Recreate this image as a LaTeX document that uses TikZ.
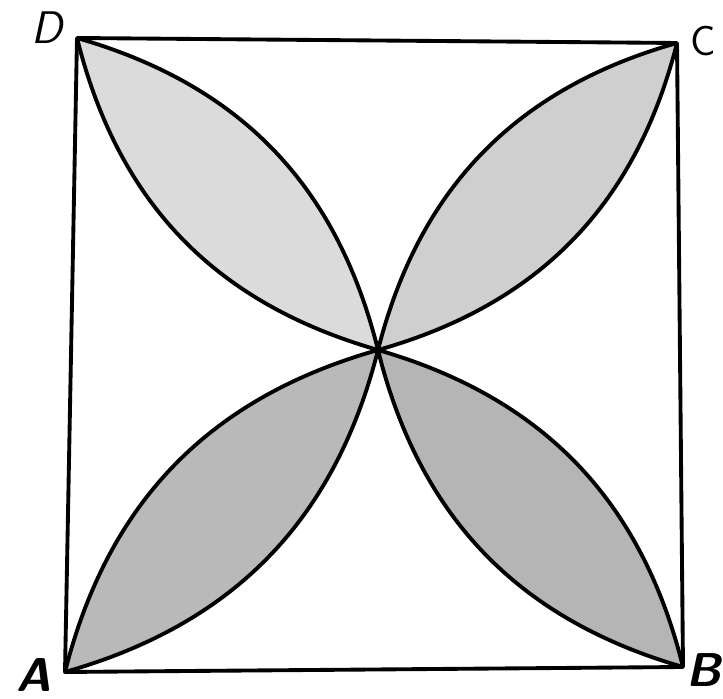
\documentclass[tikz,border=0pt]{standalone}
\usepackage{tikz}
\usetikzlibrary{positioning}

\begin{document}
\begin{tikzpicture}[
    edge/.style={line width=2.2pt, line join=round},
    petal/.style={edge, fill=#1},
    corner/.style={inner sep=0pt, font=\fontsize{26}{30}\selectfont\sffamily}
]
    \useasboundingbox (0,0) rectangle (14.46,13.98);

    % corners and centre of the square
    \coordinate (A) at (1.30,0.54);
    \coordinate (B) at (13.66,0.64);
    \coordinate (C) at (13.54,13.12);
    \coordinate (D) at (1.54,13.22);
    \coordinate (O) at (7.56,6.98);

    % petals
    \draw[petal=gray!55] (A) to[bend left=30] (O) to[bend left=30] (A);
    \draw[petal=gray!58] (B) to[bend left=30] (O) to[bend left=30] (B);
    \draw[petal=gray!38] (C) to[bend left=30] (O) to[bend left=30] (C);
    \draw[petal=gray!28] (D) to[bend left=30] (O) to[bend left=30] (D);

    % square
    \draw[edge] (A) -- (B) -- (C) -- (D) -- cycle;

    % labels
    \node[corner, font=\fontsize{27}{30}\selectfont\sffamily\bfseries\itshape] (lA) at (0.68,0.48) {A};
    \node[corner, font=\fontsize{27}{30}\selectfont\sffamily\bfseries\itshape] (lB) at (14.08,0.58) {B};
    \node[corner, font=\fontsize{24}{28}\selectfont\sffamily] (lC) at (14.06,13.16) {C};
    \node[corner, font=\fontsize{26}{30}\selectfont\sffamily\itshape] (lD) at (0.94,13.42) {D};
\end{tikzpicture}
\end{document}
